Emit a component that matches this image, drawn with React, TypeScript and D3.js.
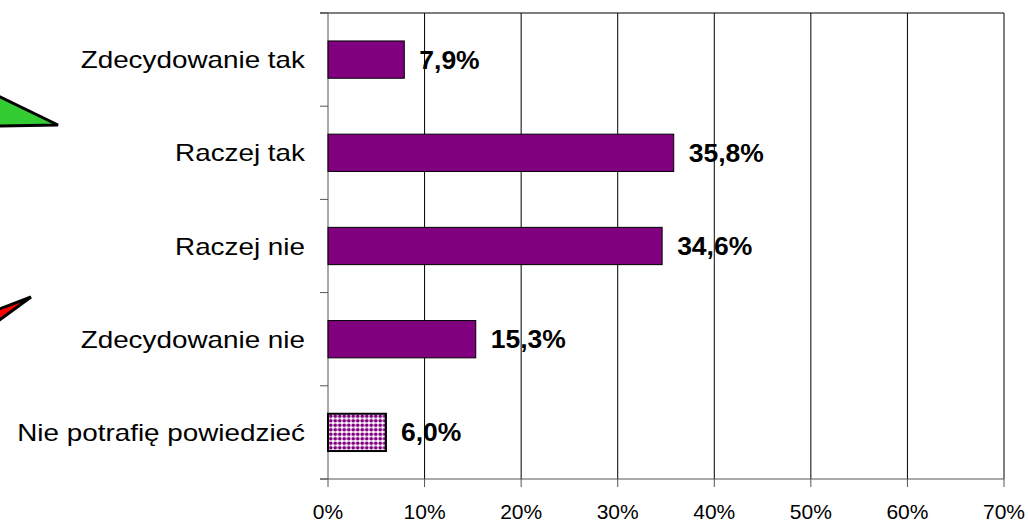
import React from "react";
import * as d3 from "d3";

const categories = ["Zdecydowanie tak", "Raczej tak", "Raczej nie", "Zdecydowanie nie", "Nie potrafię powiedzieć"];
const values = [7.9, 35.8, 34.6, 15.3, 6.0];
const valueLabels = ["7,9%", "35,8%", "34,6%", "15,3%", "6,0%"];
const xTicks = [0, 10, 20, 30, 40, 50, 60, 70];
const xTickLabels = ["0%", "10%", "20%", "30%", "40%", "50%", "60%", "70%"];

export default function App() {
  const W = 1028, H = 525;
  const left = 328, right = 1004, top = 13, bottom = 479;
  const x = d3.scaleLinear().domain([0, 70]).range([left, right]);
  const y = d3.scaleBand<string>().domain(categories).range([top, bottom]).paddingInner(0.6).paddingOuter(0.3);
  const band = (bottom - top) / categories.length;
  const boundaries = d3.range(categories.length + 1).map((i) => top + i * band);
  const font = "'Liberation Sans', Arial, sans-serif";
  return (
    <svg width={W} height={H} style={{ position: "absolute", left: 0, top: 0, background: "#fff" }} fontFamily={font}>
      <defs>
        <pattern id="dots" width="4.5" height="4.5" patternUnits="userSpaceOnUse">
          <rect width="4.5" height="4.5" fill="#fff" />
          <circle cx="2.25" cy="2.25" r="1.9" fill="#800080" />
        </pattern>
      </defs>
      <rect width={W} height={H} fill="#fff" />
      {/* arrows */}
      <polygon points="-6,94 58,125 -6,126" fill="#33cc33" stroke="#000" strokeWidth={3} strokeLinejoin="miter" />
      <polygon points="31,297 -6,311 -6,324" fill="#ff0000" stroke="#000" strokeWidth={3} />
      {/* grid */}
      {xTicks.slice(1).map((t) => (
        <line key={"g" + t} x1={x(t)} x2={x(t)} y1={top} y2={bottom} stroke="#000" strokeWidth={1} />
      ))}
      <line x1={320} x2={right} y1={top} y2={top} stroke="#000" strokeWidth={1} />
      {/* axes */}
      <line x1={left} x2={left} y1={top} y2={bottom} stroke="#555" strokeWidth={1} />
      <line x1={320} x2={right} y1={bottom} y2={bottom} stroke="#555" strokeWidth={1} />
      {boundaries.map((b, i) => (
        <line key={"lt" + i} x1={320} x2={left} y1={b} y2={b} stroke="#555" strokeWidth={1} />
      ))}
      {xTicks.map((t) => (
        <line key={"bt" + t} x1={x(t)} x2={x(t)} y1={bottom} y2={bottom + 8} stroke="#555" strokeWidth={1} />
      ))}
      {/* bars */}
      {categories.map((c, i) => (
        <rect
          key={"b" + c}
          x={x(0)}
          y={y(c)!}
          width={x(values[i]) - x(0)}
          height={y.bandwidth()}
          fill={i === categories.length - 1 ? "url(#dots)" : "#800080"}
          stroke="#000"
          strokeWidth={i === categories.length - 1 ? 2 : 1}
        />
      ))}
      {/* value labels */}
      {categories.map((c, i) => (
        <text
          key={"v" + c}
          transform={`translate(${x(values[i]) + 15},${y(c)! + y.bandwidth() / 2}) scale(1.06,1)`}
          dy="0.36em"
          fontSize={25}
          fontWeight="bold"
          fill="#000"
        >
          {valueLabels[i]}
        </text>
      ))}
      {/* category labels */}
      {categories.map((c) => (
        <text
          key={"c" + c}
          transform={`translate(305,${y(c)! + y.bandwidth() / 2}) scale(1.16,1)`}
          dy="0.36em"
          fontSize={24}
          textAnchor="end"
          fill="#000"
        >
          {c}
        </text>
      ))}
      {/* x tick labels */}
      {xTicks.map((t, i) => (
        <text key={"xl" + t} x={x(t)} y={519} fontSize={21} textAnchor="middle" fill="#000">
          {xTickLabels[i]}
        </text>
      ))}
    </svg>
  );
}
